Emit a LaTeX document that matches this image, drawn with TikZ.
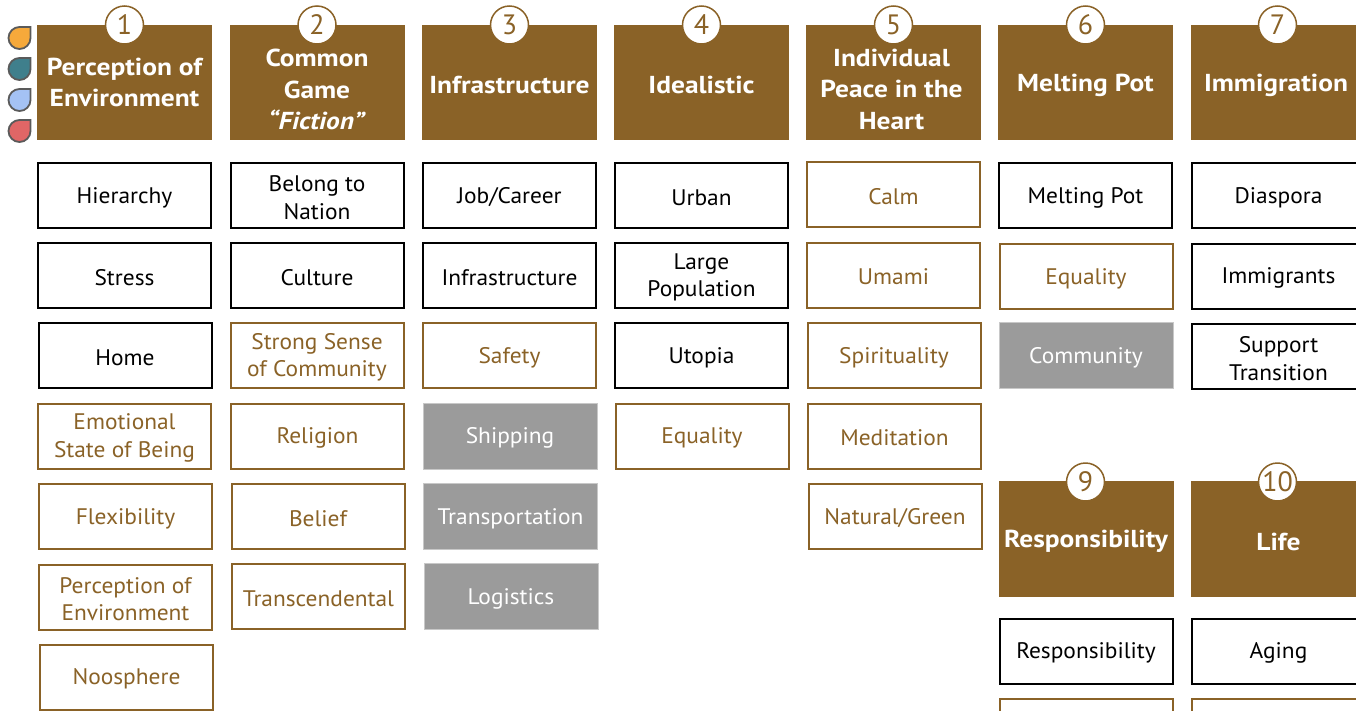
\documentclass[tikz,border=0pt]{standalone}
\usepackage{fontspec}
\setmainfont{PT Sans}
\newfontfamily\cellfont[FakeStretch=1.04]{PT Sans}
\newfontfamily\hdrfont[FakeStretch=1.12]{PT Sans}
\definecolor{brn}{HTML}{8A6227}
\definecolor{gry}{HTML}{9B9B9B}
\definecolor{gryline}{HTML}{C8C8C8}
\definecolor{blobline}{HTML}{5A5A5A}
\definecolor{bor}{HTML}{F6A93B}
\definecolor{bte}{HTML}{3F7F8C}
\definecolor{blb}{HTML}{A4C2F4}
\definecolor{bre}{HTML}{E06666}
\newcommand\tdrop[4]{% name, cx, cy, colour
  \def\r{11}\def\k{6.1}
  \filldraw[fill=#4,draw=blobline,line width=1.8pt]
    (#2+\r,#3-\r) -- (#2+\r,#3)
    .. controls (#2+\r,#3+\k) and (#2+\k,#3+\r) .. (#2,#3+\r)
    .. controls (#2-\k,#3+\r) and (#2-\r,#3+\k) .. (#2-\r,#3)
    .. controls (#2-\r,#3-\k) and (#2-\k,#3-\r) .. (#2,#3-\r)
    -- cycle;
  \coordinate (#1) at (#2,#3);}
% style, name, position, text
\newcommand\cellbox[4]{%
  \node[#1] (#2) at (#3) {};
  \node[ctext,#1txt] (#2t) at ([yshift=-2pt]#2.center) {#4};}
\begin{document}
\begin{tikzpicture}[x=1pt,y=-1pt,
  hdr/.style={fill=brn,minimum width=175pt,minimum height=115.5pt,inner sep=0pt,outer sep=0pt},
  htxt/.style={text=white,font=\hdrfont\bfseries\fontsize{24.5}{31.5}\selectfont,align=center,inner sep=0pt},
  num/.style={circle,fill=white,draw=brn,line width=1.5pt,minimum size=38pt,inner sep=0pt,
    text=brn,font=\fontsize{28}{28}\selectfont},
  cell/.style={minimum width=173pt,minimum height=65pt,inner sep=0pt,outer sep=0pt,line width=2pt},
  ctext/.style={inner sep=0pt,align=center,font=\cellfont\fontsize{22.5}{27.5}\selectfont},
  bk/.style={cell,draw=black},
  br/.style={cell,draw=brn},
  gr/.style={cell,fill=gry,draw=gryline,line width=1pt,minimum width=174pt,minimum height=66pt},
  bktxt/.style={text=black},
  brtxt/.style={text=brn},
  grtxt/.style={text=white},
]
\useasboundingbox (0,0) rectangle (1356,710);
\clip (0,0) rectangle (1356,710);

% legend drops
\tdrop{d1}{19.5}{38}{bor}
\tdrop{d2}{19.5}{69}{bte}
\tdrop{d3}{19.5}{100}{blb}
\tdrop{d4}{19.5}{131}{bre}

% column 1
\node[hdr] (h1) at (124.5,82.5) {};
\node[htxt] (t1) at (124.5,82.5) {Perception of\\Environment};
\node[num] (n1) at (124.5,25) {1};
\cellbox{bk}{a1}{124.5,195.5}{Hierarchy}
\cellbox{bk}{a2}{124.5,275.5}{Stress}
\cellbox{bk}{a3}{125,355.5}{Home}
\cellbox{br}{a4}{124.5,436}{Emotional\\State of Being}
\cellbox{br}{a5}{125.5,516.5}{Flexibility}
\cellbox{br}{a6}{125.5,597}{Perception of\\Environment}
\cellbox{br}{a7}{126.5,677}{Noosphere}

% column 2
\node[hdr] (h2) at (317,82.5) {};
\node[htxt] (t2) at (317,89.5) {Common\\Game\\\textit{“Fiction”}};
\node[num] (n2) at (317,25) {2};
\cellbox{bk}{b1}{317,195.5}{Belong to\\Nation}
\cellbox{bk}{b2}{317,275.5}{Culture}
\cellbox{br}{b3}{317,355.5}{Strong Sense\\of Community}
\cellbox{br}{b4}{317.5,436}{Religion}
\cellbox{br}{b5}{318,516.5}{Belief}
\cellbox{br}{b6}{318.5,596.5}{Transcendental}

% column 3
\node[hdr] (h3) at (509.5,82.5) {};
\node[htxt] (t3) at (509.5,85) {Infrastructure};
\node[num] (n3) at (509.5,25) {3};
\cellbox{bk}{c1}{509.5,195.5}{Job/Career}
\cellbox{bk}{c2}{509.5,275.5}{Infrastructure}
\cellbox{br}{c3}{509.5,355.5}{Safety}
\cellbox{gr}{c4}{510,436}{Shipping}
\cellbox{gr}{c5}{510.5,516.5}{Transportation}
\cellbox{gr}{c6}{511,596.5}{Logistics}

% column 4
\node[hdr] (h4) at (701.5,82.5) {};
\node[htxt] (t4) at (701.5,85) {Idealistic};
\node[num] (n4) at (701.5,25) {4};
\cellbox{bk}{e1}{701.5,195.5}{Urban}
\cellbox{bk}{e2}{701.5,275.5}{Large\\Population}
\cellbox{bk}{e3}{701.5,355.5}{Utopia}
\cellbox{br}{e4}{702,436}{Equality}

% column 5
\node[hdr] (h5) at (893.5,82.5) {};
\node[htxt] (t5) at (891.5,89) {Individual\\Peace in the\\Heart};
\node[num] (n5) at (893.5,25) {5};
\cellbox{br}{f1}{893.5,194.5}{Calm}
\cellbox{br}{f2}{893.5,275}{Umami}
\cellbox{br}{f3}{894,355.5}{Spirituality}
\cellbox{br}{f4}{894.5,436}{Meditation}
\cellbox{br}{f5}{895,516.5}{Natural/Green}

% column 6
\node[hdr] (h6) at (1085.5,82.5) {};
\node[htxt] (t6) at (1085.5,85) {Melting Pot};
\node[num] (n6) at (1085.5,25) {6};
\cellbox{bk}{g1}{1085.5,195.5}{Melting Pot}
\cellbox{br}{g2}{1086,276.5}{Equality}
\cellbox{gr}{g3}{1086,355.5}{Community}

\node[hdr] (h9) at (1086,539) {};
\node[htxt] (t9) at (1086,541.5) {Responsibility};
\node[num] (n9) at (1085.5,482) {9};
\cellbox{bk}{k1}{1086,651}{Responsibility}
\node[br] (k2) at (1086,731) {};

% column 7
\node[hdr] (h7) at (1278.5,82.5) {};
\node[htxt] (t7) at (1276,85) {Immigration};
\node[num] (n7) at (1277.5,25) {7};
\cellbox{bk}{m1}{1278.5,195.5}{Diaspora}
\cellbox{bk}{m2}{1278.5,276}{Immigrants}
\cellbox{bk}{m3}{1278.5,356.5}{Support\\Transition}

\node[hdr] (h10) at (1278.5,539) {};
\node[htxt] (t10) at (1278.5,541.5) {Life};
\node[num] (n10) at (1277.5,482) {10};
\cellbox{bk}{p1}{1278.5,651}{Aging}
\node[br] (p2) at (1278.5,731) {};
\end{tikzpicture}
\end{document}
